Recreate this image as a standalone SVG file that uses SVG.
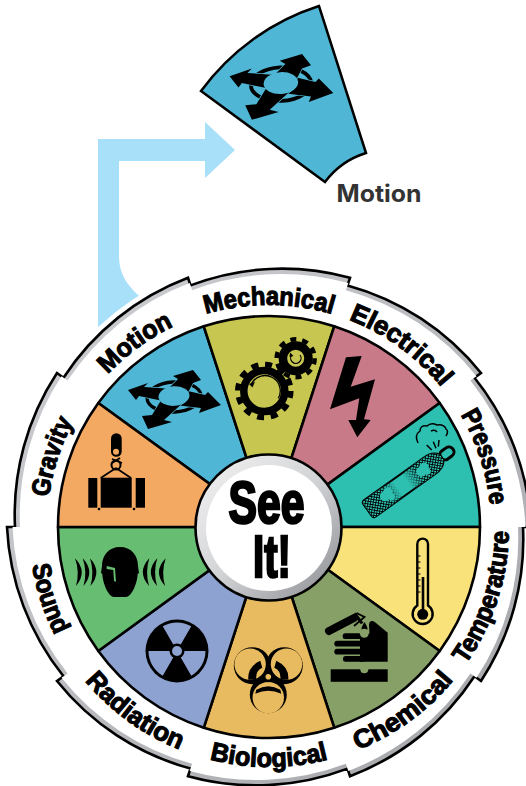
<svg xmlns="http://www.w3.org/2000/svg" width="526" height="786" viewBox="0 0 526 786">
<style>
.sec{stroke:#000;stroke-width:2.6;stroke-linejoin:round}
.lab{font-family:"Liberation Sans Narrow","Liberation Sans",Arial,sans-serif;font-weight:700;font-size:26px;fill:#000;stroke:#000;stroke-width:1.1;text-anchor:middle}
.hub{font-family:"Liberation Sans Narrow","Liberation Sans",Arial,sans-serif;font-weight:700;font-size:59px;fill:#000;stroke:#000;stroke-width:2.6;text-anchor:middle}
.ic{fill:#000}
.ln{fill:none;stroke:#000}
</style>
<defs>
<linearGradient id="bev" x1="0" y1="0" x2="1" y2="1"><stop offset="0" stop-color="#cfd0d3"/><stop offset="1" stop-color="#a4a5a9"/></linearGradient>
<linearGradient id="hubg" x1="0.1" y1="0.1" x2="0.9" y2="0.9"><stop offset="0" stop-color="#eeeeef"/><stop offset=".5" stop-color="#d2d3d5"/><stop offset="1" stop-color="#97989c"/></linearGradient>
<path id="ringOuter" d="M15 527A258 258 0 0 1 57 373L63.5 377.7A258 258 0 0 1 188 277.8L190.5 285.4A258 258 0 0 1 350 277.8L347.500 285.4A258 258 0 0 1 481 373L474.5 377.7A258 258 0 0 1 531 527L523 527A258 258 0 0 1 481 681L474.5 676.3A258 258 0 0 1 350 776.2L347.500 768.6A258 258 0 0 1 188 776.2L190.5 768.6A258 258 0 0 1 57 681L63.5 676.3A258 258 0 0 1 7 527Z"/>
<path id="ringInner" d="M20 527A253 253 0 0 1 61.500 376.2L67.600 380.600A253 253 0 0 1 189.700 283.100L192.100 290.200A253 253 0 0 1 348.300 283.100L345.900 290.200A253 253 0 0 1 476.500 376.200L470.400 380.600A253 253 0 0 1 525.500 527L518 527A253 253 0 0 1 476.500 677.800L470.400 673.400A253 253 0 0 1 348.300 770.900L345.900 763.800A253 253 0 0 1 189.700 770.900L192.100 763.800A253 253 0 0 1 61.500 677.800L67.600 673.400A253 253 0 0 1 12.500 527Z"/>
<path id="arcT" d="M76.700 416A222 222 0 0 1 461.300 416"/>
<path id="arcB" d="M61.200 647A240 240 0 0 0 476.800 647"/>
<g id="moveIcon">
<ellipse cx="-1" cy="1" rx="27" ry="15" fill="none" stroke="#000" stroke-width="3.4" transform="rotate(-3)"/>
<g fill="#000" stroke="#4fb7d5" stroke-width="1.300" paint-order="stroke" stroke-linejoin="miter">
<path d="M0-8L30-1 33-4 46 9 24 17 26 12 0 9Z"/>
<path d="M-8-6L3-17-2-20 18-26 26-16 18-13 8 6Z"/>
<path d="M-2-7L-31-9-27-13-47-6-39 4-36 0-2 7Z"/>
<path d="M-10-2L-23 19-33 20-27 33-3 26-11 24 10 5Z"/>
</g>
<ellipse cx="-1" cy="0" rx="15.500" ry="9.800" fill="#4fb7d5" transform="rotate(-4)"/>
</g>
<pattern id="hatch" width="2.600" height="2.600" patternUnits="userSpaceOnUse" patternTransform="rotate(45)"><rect width="2.600" height="2.600" fill="#2dbfb0"/><path d="M0 0H2.600M0 0V2.600" stroke="#000" stroke-width="1.600"/></pattern>
<linearGradient id="fade" gradientUnits="userSpaceOnUse" x1="-46" y1="0" x2="43" y2="0"><stop offset="0" stop-color="#fff"/><stop offset=".25" stop-color="#fff"/><stop offset=".42" stop-color="#000"/><stop offset=".55" stop-color="#000"/><stop offset=".72" stop-color="#fff"/><stop offset="1" stop-color="#fff"/></linearGradient>
<mask id="fadeM" maskUnits="userSpaceOnUse" x="-60" y="-20" width="120" height="40"><rect x="-60" y="-20" width="120" height="40" fill="url(#fade)"/></mask>
</defs>

<g id="connectors">
<path id="arrow-motion" fill="#a8dff9" d="M98 340V139H205V122L235 150 205 178V161H119V255C119 275 127 287 150 305L130 340Z"/>
</g>

<g id="motion-callout">
<path d="M201 91A235 235 0 0 1 319 6L366 153A81 81 0 0 0 325 182Z" fill="#4fb7d5" stroke="#000" stroke-width="2.500" stroke-linejoin="miter"/>
<use href="#moveIcon" transform="translate(282 83) scale(1.115)"/>
<text x="336.500" y="201.500" font-family="Inter,'Open Sans',sans-serif" font-weight="700" font-size="24" fill="#333" textLength="85" lengthAdjust="spacingAndGlyphs">Motion</text>
</g>

<g id="wheel-rim">
<use href="#ringOuter" fill="#fff" stroke="#fff" stroke-width="12" stroke-linejoin="round"/>
<use href="#ringOuter" fill="url(#bev)" stroke="#000" stroke-width="2.600" stroke-linejoin="miter"/>
<use href="#ringInner" fill="#fff"/>
</g>

<g id="node-motion">
<path class="sec" fill="#4fb7d5" d="M269 527L98.300 403A211 211 0 0 1 203.800 326.300Z"/>
<use href="#moveIcon" transform="translate(175 396)"/>
<text class="lab" transform="rotate(-36 269 527)"><textPath href="#arcT" startOffset="50%" textLength="82" lengthAdjust="spacingAndGlyphs">Motion</textPath></text>
</g>

<g id="node-mechanical">
<path class="sec" fill="#c6c651" d="M269 527L203.800 326.300A211 211 0 0 1 334.200 326.300Z"/>
<circle class="ln" cx="264.300" cy="391" r="20.500" stroke-width="7.500"/>
<circle class="ln" cx="264.300" cy="391" r="26.500" stroke-width="5.500" stroke-dasharray="7 6.880"/>
<path class="ln" stroke-width="1.300" d="M251.700 383.300A14 14 0 0 1 278.300 398.300"/>
<path class="ic" d="M249 384L255 381.500 252.500 387.500Z"/>
<circle class="ln" cx="295.700" cy="358.300" r="12.800" stroke-width="8.500"/>
<circle class="ln" cx="295.700" cy="358.300" r="19" stroke-width="4.500" stroke-dasharray="6 5.940"/>
<path class="ln" stroke-width="1.200" d="M291.700 355A5.200 5.200 0 1 0 300 355"/>
<path class="ic" d="M290 352.500L293.500 356 289.500 357Z"/>
<text class="lab"><textPath href="#arcT" startOffset="50%" textLength="128" lengthAdjust="spacingAndGlyphs">Mechanical</textPath></text>
</g>

<g id="node-electrical">
<path class="sec" fill="#c97a88" d="M269 527L334.200 326.300A211 211 0 0 1 439.700 403Z"/>
<path class="ic" d="M346 357.300L361.700 356 350.700 386.700 375 379.300 364 419.300 370.700 420 357.300 437.300 348.300 420 356 420 359.300 398.300 330 409.300Z"/>
<text class="lab" transform="rotate(36 269 527)"><textPath href="#arcT" startOffset="50%" textLength="116" lengthAdjust="spacingAndGlyphs">Electrical</textPath></text>
</g>

<g id="node-pressure">
<path class="sec" fill="#2dbfb0" d="M269 527L439.700 403A211 211 0 0 1 480 527Z"/>
<g transform="translate(405 483.300) rotate(-35.500)">
<rect x="44" y="-5" width="15" height="10" rx="5" fill="#2dbfb0" stroke="#000" stroke-width="3"/>
<path id="cyl" d="M-43-10H30Q41-10 45-3V3Q41 10 30 10H-43Q-46 10-46 7V-7Q-46-10-43-10Z" fill="#2dbfb0" stroke="#000" stroke-width="2"/>
<path d="M-43-10H30Q41-10 45-3V3Q41 10 30 10H-43Q-46 10-46 7V-7Q-46-10-43-10Z" fill="url(#hatch)" mask="url(#fadeM)"/>
<g fill="#2dbfb0"><circle cx="-24" cy="-1" r="5"/><circle cx="-19" cy="-3" r="4.500"/><circle cx="-19" cy="3" r="3.500"/><circle cx="20" cy="0" r="5"/><circle cx="25" cy="-2" r="4.500"/><circle cx="25" cy="3" r="3.500"/></g>
</g>
<path class="ln" stroke-width="1.500" d="M418 443Q414 435 420 431Q420 425 427 426Q431 422 437 425Q444 424 446 429Q449 431 446 436M431 431Q435 429 437 432"/>
<path class="ln" stroke-width="1.500" d="M426.700 445L431.700 450M433.300 441.700L436 448.300M439 440L438.300 446.700"/>
<text class="lab" transform="rotate(72 269 527)"><textPath href="#arcT" startOffset="50%" textLength="96" lengthAdjust="spacingAndGlyphs">Pressure</textPath></text>
</g>

<g id="node-temperature">
<path class="sec" fill="#f9e27a" d="M269 527L480 527A211 211 0 0 1 439.700 651Z"/>
<path class="ln" stroke-width="2.400" d="M417.300 544A5.300 5.300 0 0 1 428 544V605.500A10 10 0 1 1 417.300 605.500Z"/>
<circle class="ic" cx="422.700" cy="614.300" r="5.500"/>
<rect class="ic" x="421.700" y="577" width="2.600" height="32"/>
<path class="ln" stroke-width="1.200" d="M418 556H420.500M418 562H420.500M418 568H420.500M418 574H420.500M418 580H420.500M418 586H420.500M418 592H420.500"/>
<text class="lab" transform="rotate(-72 269 527)"><textPath href="#arcB" startOffset="50%" textLength="142" lengthAdjust="spacingAndGlyphs">Temperature</textPath></text>
</g>

<g id="node-chemical">
<path class="sec" fill="#87a067" d="M269 527L439.700 651A211 211 0 0 1 334.200 727.700Z"/>
<path class="ln" stroke-width="8" stroke-linecap="round" d="M329 631L354 618"/>
<path class="ln" stroke-width="1.800" d="M356.500 613L364.500 617L354 626"/>
<path class="ic" d="M356 612.500L363.500 623 360.500 624 353.500 614Z"/>
<path class="ic" d="M364.500 622Q368 628 367.500 629A3.300 3.300 0 0 1 361.500 629Q361 628 364.500 622Z"/>
<path class="ic" d="M360 633.300H369.500L369 625Q369 621 372.300 621 374 621 376 623L387.700 632.700V661.700H360Z"/>
<g class="ic"><rect x="342.700" y="633.300" width="22" height="5.800" rx="2.500"/><rect x="334.300" y="640.700" width="30" height="5.800" rx="2.800"/><rect x="334.300" y="648.700" width="30" height="5.800" rx="2.800"/><rect x="343" y="656" width="22" height="5.800" rx="2.500"/></g>
<circle cx="364.300" cy="633.300" r="4.500" fill="#87a067"/>
<rect class="ic" x="330.700" y="669.300" width="57" height="12.500"/>
<circle cx="364.300" cy="669.300" r="4" fill="#87a067"/>
<text class="lab" transform="rotate(-36 269 527)"><textPath href="#arcB" startOffset="50%" textLength="120" lengthAdjust="spacingAndGlyphs">Chemical</textPath></text>
</g>

<g id="node-biological">
<path class="sec" fill="#e9bb60" d="M269 527L334.200 727.700A211 211 0 0 1 203.800 727.700Z"/>
<g transform="translate(268.300 676.700)">
<circle class="ic" cx="-16" cy="-11" r="18.500"/><circle class="ic" cx="16" cy="-11" r="18.500"/><circle class="ic" cx="0" cy="18" r="18.500"/>
<circle fill="#e9bb60" cx="-18.200" cy="-12.500" r="15.700"/><circle fill="#e9bb60" cx="18.200" cy="-12.500" r="15.700"/><circle fill="#e9bb60" cx="0" cy="20.900" r="15.700"/>
<path d="M-24 14L-31 22M24 14L31 22M-7 34L-9 37M7 34L9 37" stroke="#e9bb60" stroke-width="0" fill="none"/>
<path class="ic" d="M-8-16Q-21-10-20 3L-12 3Q-13-6-6-9ZM8-16Q21-10 20 3L12 3Q13-6 6-9ZM-12 13Q0 6 12 13L13 17Q0 11-13 17Z"/>
<circle class="ic" r="5.500"/>
<circle fill="#e9bb60" r="2.800"/>
</g>
<text class="lab"><textPath href="#arcB" startOffset="50%" textLength="120" lengthAdjust="spacingAndGlyphs">Biological</textPath></text>
</g>

<g id="node-radiation">
<path class="sec" fill="#8da2d0" d="M269 527L203.800 727.700A211 211 0 0 1 98.300 651Z"/>
<g transform="translate(177 651)">
<circle class="ic" r="31.500"/>
<path fill="#8da2d0" d="M0 0L-14.250-24.680A28.500 28.500 0 0 1 14.250-24.680ZM0 0L28.500 0A28.500 28.500 0 0 1 14.250 24.680ZM0 0L-14.250 24.680A28.500 28.500 0 0 1-28.500 0Z"/>
<circle class="ic" r="7.500"/>
<circle fill="#8da2d0" r="5"/>
</g>
<text class="lab" transform="rotate(36 269 527)"><textPath href="#arcB" startOffset="50%" textLength="118" lengthAdjust="spacingAndGlyphs">Radiation</textPath></text>
</g>

<g id="node-sound">
<path class="sec" fill="#67bd72" d="M269 527L98.300 651A211 211 0 0 1 58 527Z"/>
<path class="ic" d="M120 547C131 547 138 555 138 566L139 573 137.700 574C137 585 131 597 126 597H114C109 597 103 585 102.300 574L101 573 102 566C102 555 109 547 120 547Z"/>
<path fill="#67bd72" d="M106.700 566L115 568 116 581.700 114 581 113.300 570 106.700 569Z"/>
<g class="ic">
<path d="M75 558.300Q88 572 76 586Q80 572 75 558.300Z"/><path d="M82.700 558.300Q95.500 572 83.500 586Q87.500 572 82.700 558.300Z"/><path d="M90 558.300Q102.500 572 90.500 586Q94.500 572 90 558.300Z"/>
<path d="M149.300 558.300Q136.500 572 149 586Q145 572 149.300 558.300Z"/><path d="M157.300 558.300Q144.500 572 157 586Q153 572 157.300 558.300Z"/><path d="M165.700 558.300Q152.500 572 165 586Q161 572 165.700 558.300Z"/>
</g>
<text class="lab" transform="rotate(72 269 527)"><textPath href="#arcB" startOffset="50%" textLength="74" lengthAdjust="spacingAndGlyphs">Sound</textPath></text>
</g>

<g id="node-gravity">
<path class="sec" fill="#f4a962" d="M269 527L58 527A211 211 0 0 1 98.300 403Z"/>
<rect class="ic" x="111" y="433.300" width="10.700" height="23.500" rx="5.300"/>
<circle cx="116" cy="451.700" r="3" fill="#f4a962"/>
<circle class="ln" cx="116" cy="465" r="4.500" stroke-width="2"/>
<path class="ln" stroke-width="1.800" d="M112 459L122 463M120 458L112 463M116 468L100.700 478M116 468L131 478"/>
<rect class="ic" x="100.700" y="477.700" width="31" height="30"/>
<rect class="ic" x="88.300" y="478" width="9" height="29.700"/>
<rect class="ic" x="135.700" y="478" width="9.300" height="29.700"/>
<circle class="ic" cx="99" cy="509" r="1.300"/><circle class="ic" cx="134" cy="509" r="1.300"/>
<text class="lab" transform="rotate(-72 269 527)"><textPath href="#arcT" startOffset="50%" textLength="80" lengthAdjust="spacingAndGlyphs">Gravity</textPath></text>
</g>

<g id="hub">
<circle cx="268.500" cy="527.500" r="73" fill="url(#hubg)" stroke="#000" stroke-width="2.600"/>
<circle cx="269" cy="528" r="63" fill="#fff"/>
<text class="hub" x="266.500" y="523" textLength="76" lengthAdjust="spacingAndGlyphs">See</text>
<text class="hub" x="272" y="577" textLength="38" lengthAdjust="spacingAndGlyphs">It!</text>
</g>
</svg>
